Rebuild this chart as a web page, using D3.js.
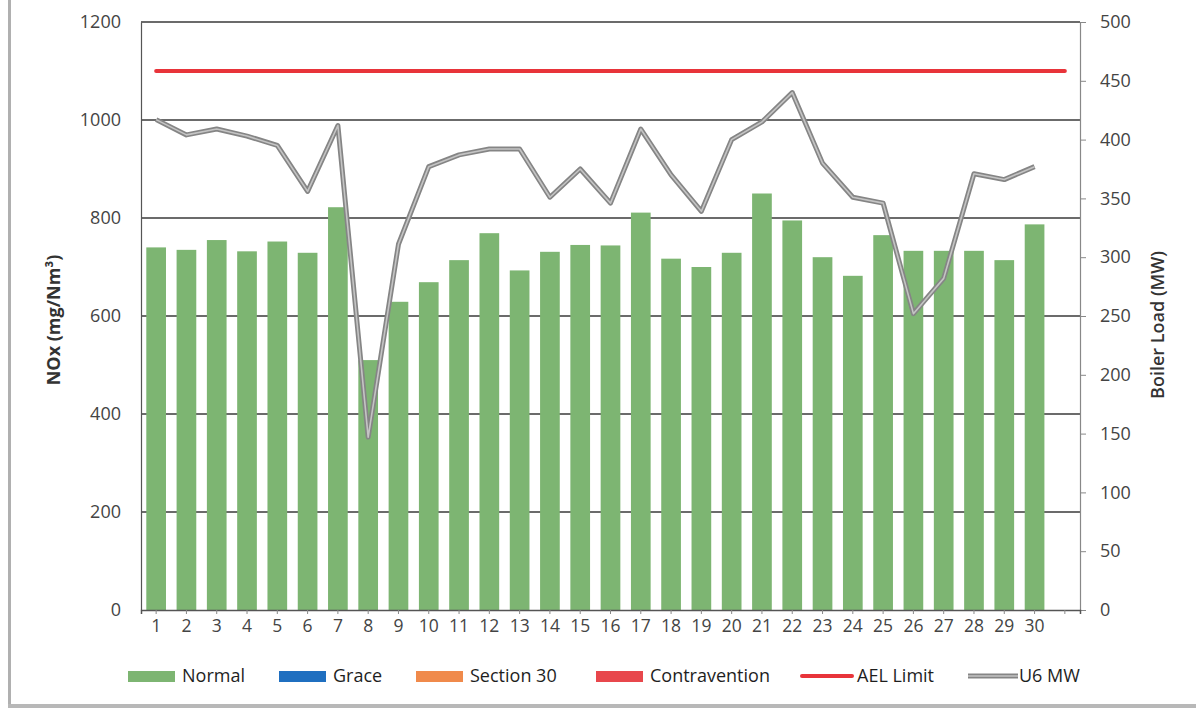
<!DOCTYPE html>
<html>
<head>
<meta charset="utf-8">
<script src="https://cdn.jsdelivr.net/npm/d3@7"></script>
<style>
  body { margin: 0; background: #fff; }
  svg { display: block; font-family: "Open Sans", "Liberation Sans", sans-serif; }
</style>
</head>
<body>
<div class="vis-chart"></div>
<script>
// day of month on the category axis (an extra empty slot sits at the end)
const days = ['1','2','3','4','5','6','7','8','9','10','11','12','13','14','15',
              '16','17','18','19','20','21','22','23','24','25','26','27','28','29','30'];
const categories = days.concat(['']);

// NOx daily average, mg/Nm3 (all days are "Normal")
const noxNormal = [740, 735, 755, 732, 752, 729, 822, 510, 629, 669,
                   714, 769, 693, 731, 745, 744, 811, 717, 700, 729,
                   850, 795, 720, 682, 765, 733, 733, 733, 714, 787];

// boiler load, MW
const u6MW = [417, 404, 409, 403, 395, 356, 412, 147, 311, 377,
              387, 392, 392, 351, 375, 346, 409, 370, 339, 400,
              415, 440, 380, 351, 346, 252, 282, 371, 366, 377];

const aelLimit = 1100;

const leftTicks = [0, 200, 400, 600, 800, 1000, 1200];
const rightTicks = [0, 50, 100, 150, 200, 250, 300, 350, 400, 450, 500];

const legendItems = [
    {name: 'Normal', type: 'box', color: '#7db572'},
    {name: 'Grace', type: 'box', color: '#1f6fc0'},
    {name: 'Section 30', type: 'box', color: '#f08a4b'},
    {name: 'Contravention', type: 'box', color: '#e8474c'},
    {name: 'AEL Limit', type: 'line', color: '#e8343a'},
    {name: 'U6 MW', type: 'mw', color: '#8a8a8a'}
];
const legendX = [128, 279, 416, 596, 802, 968];

const W = 1196, H = 708;
const plot = {left: 141, right: 1080, top: 22, bottom: 610};

const svg = d3.select('.vis-chart').append('svg')
    .attr('width', W)
    .attr('height', H);

// scan edge border
svg.append('rect').attr('x', 8).attr('y', 0).attr('width', 3).attr('height', H).attr('fill', '#b0b0b0');
svg.append('rect').attr('x', 8).attr('y', 704).attr('width', W).attr('height', 4).attr('fill', '#b8b8b8');

const x = d3.scaleBand()
    .domain(categories)
    .range([plot.left, plot.right])
    .paddingInner(0.35)
    .paddingOuter(0.175);

const y = d3.scaleLinear().domain([0, 1200]).range([plot.bottom, plot.top]);
const y2 = d3.scaleLinear().domain([0, 500]).range([plot.bottom, plot.top]);

const cx = d => x(d) + x.bandwidth() / 2;

// gridlines
svg.append('g')
    .selectAll('line')
    .data(leftTicks.slice(1))
    .join('line')
    .attr('x1', plot.left)
    .attr('x2', plot.right)
    .attr('y1', d => y(d))
    .attr('y2', d => y(d))
    .attr('stroke', '#3a3a3a')
    .attr('stroke-width', 1.5);

// bars
svg.append('g')
    .selectAll('rect')
    .data(noxNormal)
    .join('rect')
    .attr('x', (d, i) => x(days[i]))
    .attr('y', d => y(d))
    .attr('width', x.bandwidth())
    .attr('height', d => y(0) - y(d))
    .attr('fill', '#7db572');

// AEL limit
svg.append('line')
    .attr('x1', cx(categories[0]))
    .attr('x2', cx(categories[categories.length - 1]))
    .attr('y1', y(aelLimit))
    .attr('y2', y(aelLimit))
    .attr('stroke', '#e8343a')
    .attr('stroke-width', 4)
    .attr('stroke-linecap', 'round');

// U6 MW line (double-stroke look)
const mwLine = d3.line()
    .x((d, i) => cx(days[i]))
    .y(d => y2(d));

svg.append('path')
    .datum(u6MW)
    .attr('d', mwLine)
    .attr('fill', 'none')
    .attr('stroke', '#858585')
    .attr('stroke-width', 5)
    .attr('stroke-linejoin', 'round');
svg.append('path')
    .datum(u6MW)
    .attr('d', mwLine)
    .attr('fill', 'none')
    .attr('stroke', '#c4c4c4')
    .attr('stroke-width', 1.6)
    .attr('stroke-linejoin', 'round');

// left axis
const yAxis = svg.append('g')
    .attr('transform', `translate(${plot.left},0)`)
    .call(d3.axisLeft(y).tickValues(leftTicks).tickFormat(d3.format('d')).tickSize(0).tickPadding(20));
yAxis.select('.domain').attr('stroke', '#555').attr('stroke-width', 1.2);

// right axis
const y2Axis = svg.append('g')
    .attr('transform', `translate(${plot.right},0)`)
    .call(d3.axisRight(y2).tickValues(rightTicks).tickFormat(d3.format('d')).tickSize(6).tickPadding(14));
y2Axis.select('.domain').attr('stroke', '#888').attr('stroke-width', 1.2);
y2Axis.selectAll('.tick line').attr('stroke', '#888');

// x axis
const xAxis = svg.append('g')
    .attr('transform', `translate(0,${plot.bottom})`)
    .call(d3.axisBottom(x).tickSize(4).tickPadding(6));
xAxis.select('.domain').attr('stroke', '#555').attr('stroke-width', 1.5);
xAxis.selectAll('.tick line').attr('stroke', '#888');

svg.selectAll('.tick text')
    .attr('font-family', '"Open Sans", sans-serif')
    .attr('font-size', 17.5)
    .attr('fill', '#444');
yAxis.selectAll('.tick text').attr('font-size', 18);
y2Axis.selectAll('.tick text').attr('font-size', 18);

// axis titles
svg.append('text')
    .attr('transform', 'translate(60,320) rotate(-90)')
    .attr('text-anchor', 'middle')
    .attr('font-size', 18)
    .attr('font-weight', 'bold')
    .attr('fill', '#333')
    .text('NOx (mg/Nm³)');

svg.append('text')
    .attr('transform', 'translate(1164,325) rotate(-90)')
    .attr('text-anchor', 'middle')
    .attr('font-size', 18)
    .attr('font-weight', 600)
    .attr('fill', '#333')
    .text('Boiler Load (MW)');

// legend
const legend = svg.append('g').attr('transform', 'translate(0,676)');
const item = legend.selectAll('g')
    .data(legendItems)
    .join('g')
    .attr('transform', (d, i) => `translate(${legendX[i]},0)`);

item.filter(d => d.type === 'box').append('rect')
    .attr('x', 0).attr('y', -5).attr('width', 47).attr('height', 11)
    .attr('fill', d => d.color);
item.filter(d => d.type === 'line').append('line')
    .attr('x1', 0).attr('x2', 50).attr('y1', 0).attr('y2', 0)
    .attr('stroke', d => d.color).attr('stroke-width', 4).attr('stroke-linecap', 'round');
item.filter(d => d.type === 'mw').append('line')
    .attr('x1', 0).attr('x2', 50).attr('y1', 0).attr('y2', 0)
    .attr('stroke', '#858585').attr('stroke-width', 5);
item.filter(d => d.type === 'mw').append('line')
    .attr('x1', 0).attr('x2', 50).attr('y1', 0).attr('y2', 0)
    .attr('stroke', '#c4c4c4').attr('stroke-width', 1.6);

item.append('text')
    .attr('x', d => d.type === 'box' ? 54 : d.type === 'line' ? 55 : 51)
    .attr('dy', '0.35em')
    .attr('font-size', 18)
    .attr('font-weight', 500)
    .attr('fill', '#1e1e1e')
    .text(d => d.name);
</script>
</body>
</html>
